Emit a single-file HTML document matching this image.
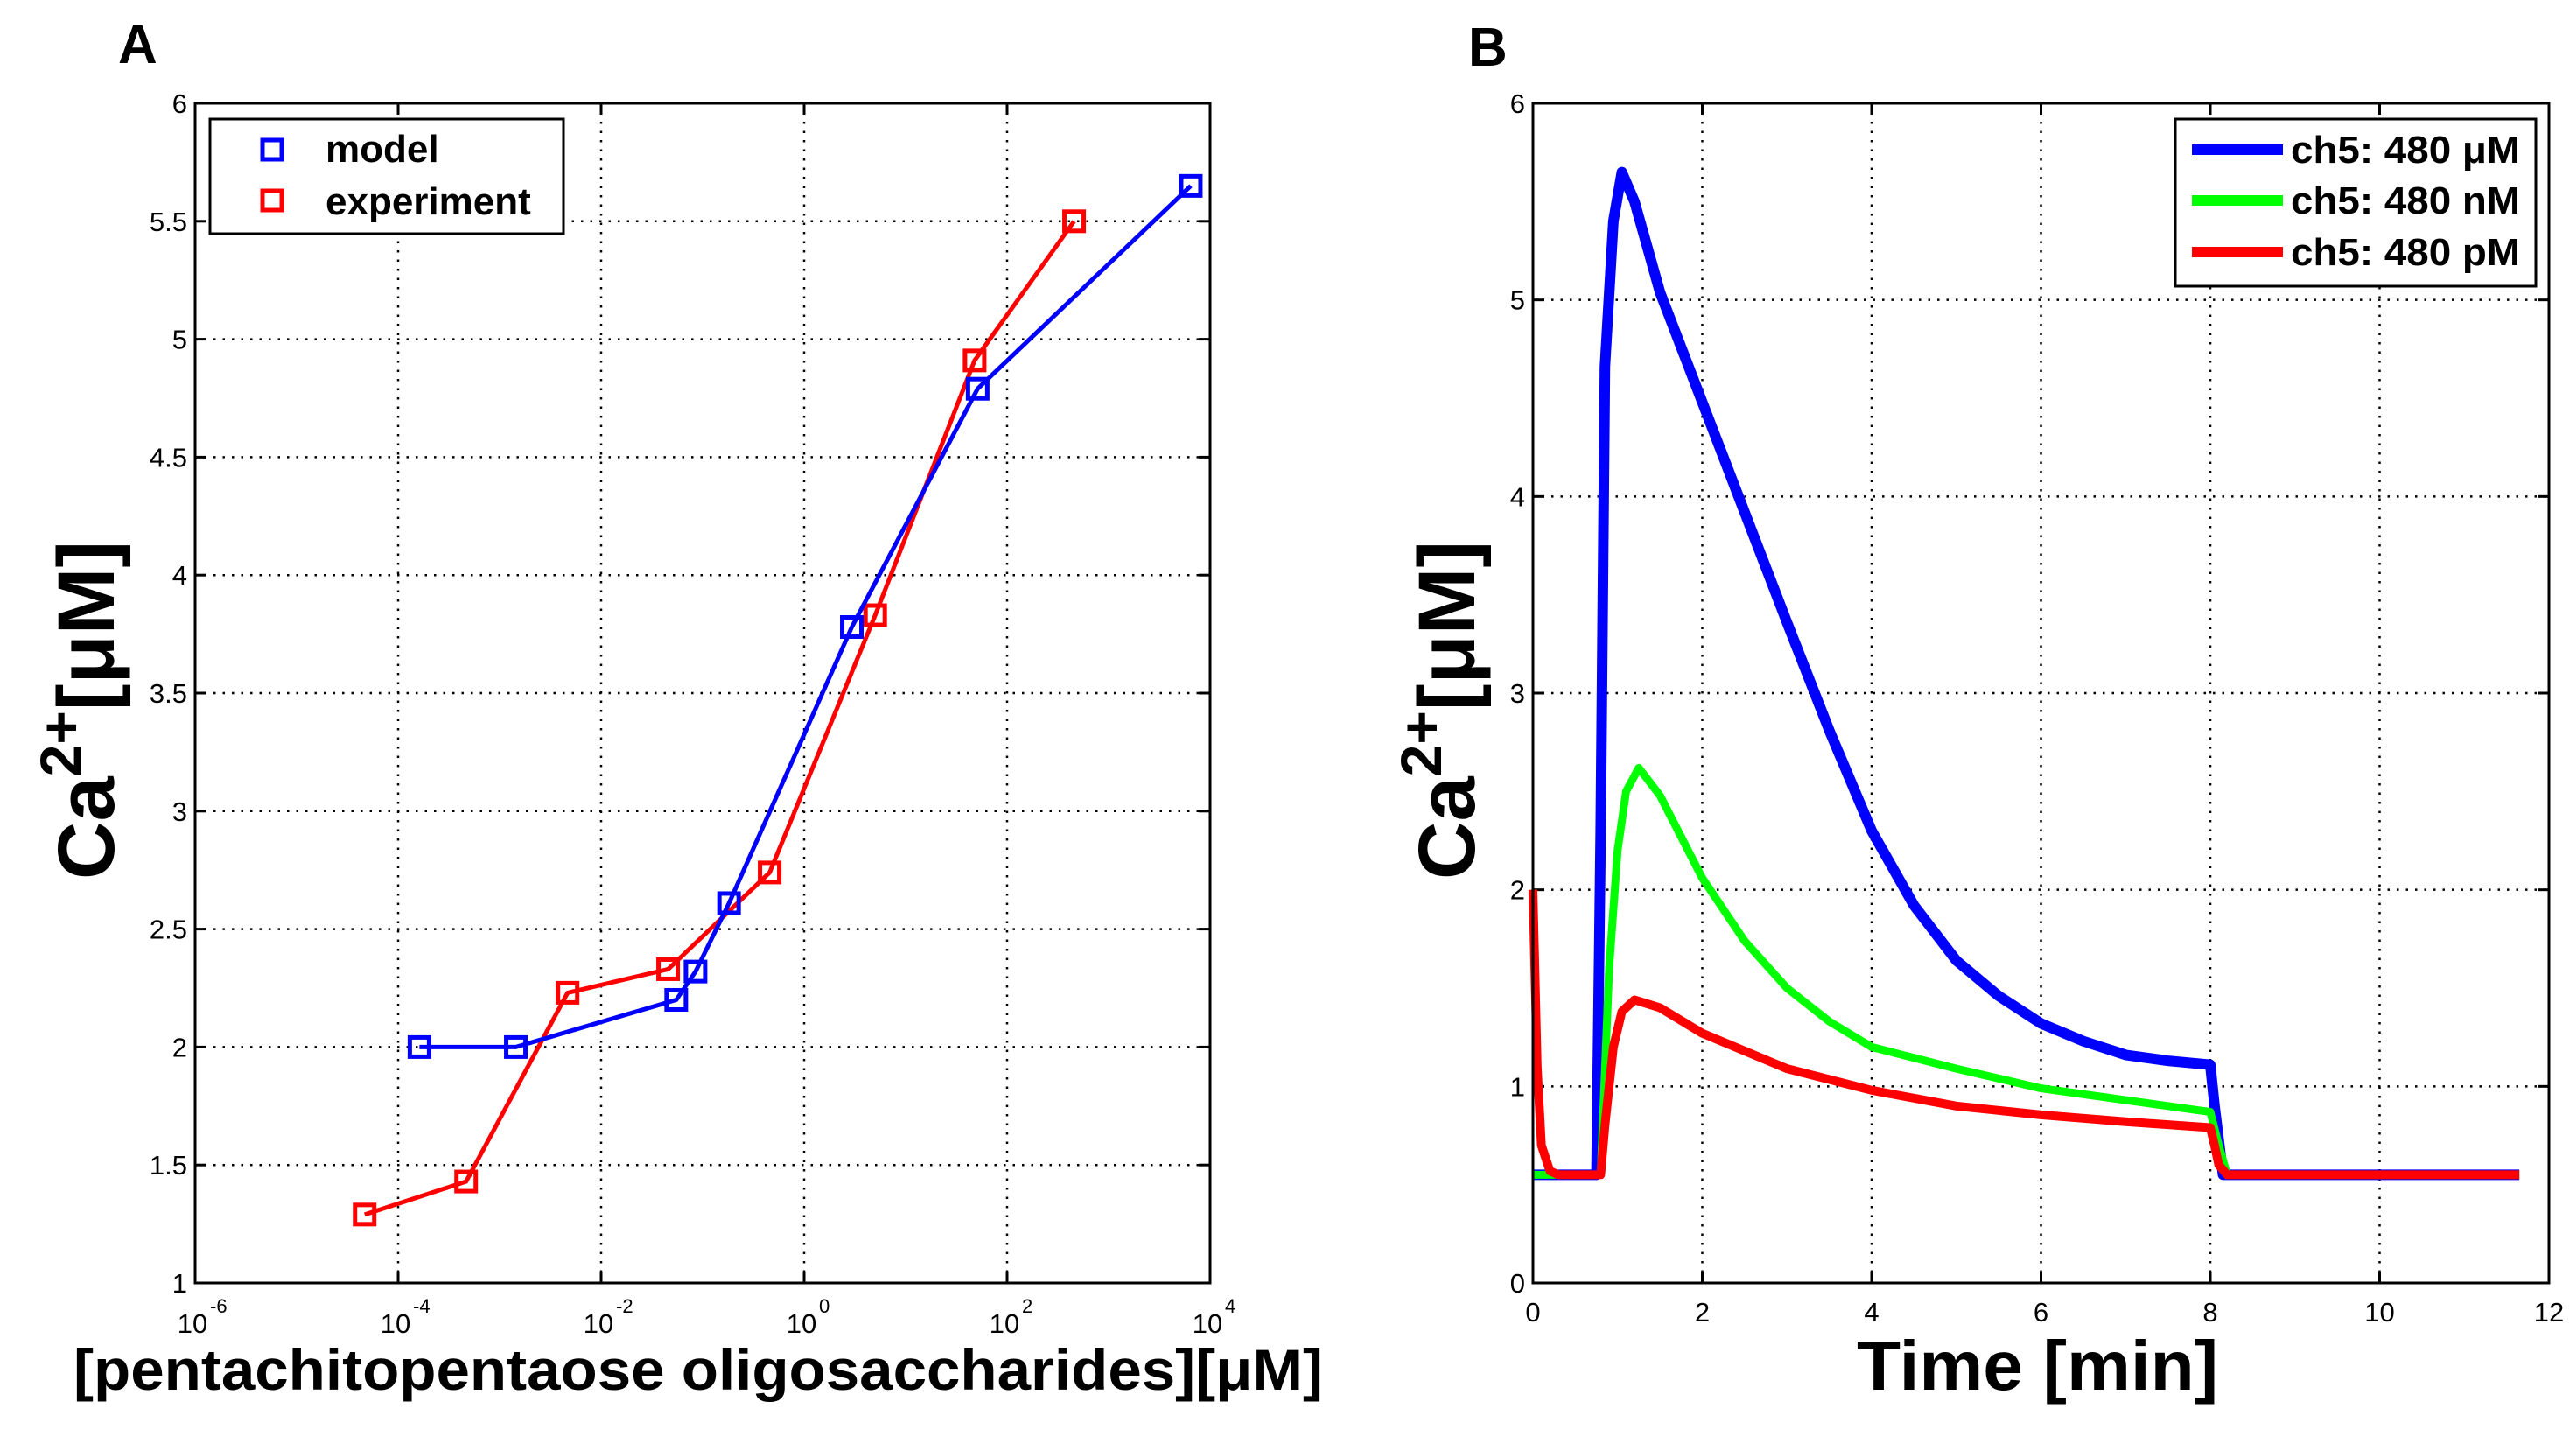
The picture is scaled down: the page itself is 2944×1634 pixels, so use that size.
<!DOCTYPE html>
<html><head><meta charset="utf-8"><style>
html,body{margin:0;padding:0;background:#fff;}
svg{display:block;font-family:"Liberation Sans",sans-serif;}
</style></head><body>
<svg id="fig" width="2944" height="1634" viewBox="0 0 2944 1634">
<rect width="2944" height="1634" fill="#fff"/>
<g id="A"></g>
<g id="B"></g>
</svg>
<script>
// ---- Panel A data (log10 concentration, Ca value) ----
const modelLogX = [-3.79, -2.84, -1.26, -1.07, -0.74, 0.47, 1.71, 3.81];
const modelY    = [2.0, 2.0, 2.2, 2.32, 2.61, 3.78, 4.79, 5.65];
const expLogX   = [-4.33, -3.33, -2.33, -1.34, -0.34, 0.70, 1.68, 2.66];
const expY      = [1.29, 1.43, 2.23, 2.33, 2.74, 3.83, 4.91, 5.50];
const aYTicks   = [1, 1.5, 2, 2.5, 3, 3.5, 4, 4.5, 5, 5.5, 6];
const aXTickExp = [-6, -4, -2, 0, 2, 4];
// ---- Panel B data (time, Ca) ----
const blueT = [0,0.75,0.8,0.85,0.95,1.05,1.2,1.5,2,2.5,3,3.5,4,4.5,5,5.5,6,6.5,7,7.5,8,8.05,8.15,11.65];
const blueY = [0.55,0.55,2.3,4.66,5.4,5.65,5.5,5.04,4.48,3.92,3.36,2.81,2.3,1.92,1.64,1.46,1.32,1.23,1.16,1.13,1.11,0.9,0.55,0.55];
const greenT = [0,0.8,0.9,1.0,1.1,1.25,1.5,2,2.5,3,3.5,4,5,6,7,8,8.1,8.2,11.65];
const greenY = [0.55,0.55,1.6,2.2,2.5,2.62,2.48,2.06,1.74,1.5,1.33,1.2,1.09,0.99,0.93,0.87,0.7,0.55,0.55];
const redT = [0,0.05,0.1,0.2,0.3,0.8,0.85,0.95,1.05,1.2,1.5,2,3,4,5,6,7,8,8.05,8.1,8.2,11.65];
const redY = [2.0,1.1,0.7,0.57,0.55,0.55,0.8,1.2,1.38,1.44,1.4,1.27,1.09,0.98,0.9,0.855,0.82,0.79,0.7,0.6,0.55,0.55];
const bXTicks = [0,2,4,6,8,10,12];
const bYTicks = [0,1,2,3,4,5,6];

const NS="http://www.w3.org/2000/svg";
function mk(parent,tag,attrs,text){const e=document.createElementNS(NS,tag);for(const k in attrs)e.setAttribute(k,attrs[k]);if(text!==undefined)e.textContent=text;parent.appendChild(e);return e;}

const yTop=118,yBot=1466;
const aL=223,aR=1383;
const axA=v=>aL+(v+6)/10*(aR-aL);
const ayA=v=>yBot-(v-1)/5*(yBot-yTop);
const bL=1752,bR=2913;
const axB=v=>bL+v/12*(bR-bL);
const ayB=v=>yBot-v/6*(yBot-yTop);

function frame(g,L,R,xt,xf,yt,yf){
  xt.forEach(v=>{const x=xf(v);
    if(x>L+2&&x<R-2){const gl=mk(g,'line',{x1:x,y1:yTop,x2:x,y2:yBot,stroke:'#000','stroke-width':2.5,'stroke-dasharray':'2.5 8'});
    
    }
    mk(g,'line',{x1:x,y1:yBot,x2:x,y2:yBot-13,stroke:'#000','stroke-width':3});
    mk(g,'line',{x1:x,y1:yTop,x2:x,y2:yTop+13,stroke:'#000','stroke-width':3});});
  yt.forEach(v=>{const y=yf(v);
    if(y>yTop+2&&y<yBot-2){const gl=mk(g,'line',{x1:L,y1:y,x2:R,y2:y,stroke:'#000','stroke-width':2.5,'stroke-dasharray':'2.5 8'});
    
    }
    mk(g,'line',{x1:L,y1:y,x2:L+13,y2:y,stroke:'#000','stroke-width':3});
    mk(g,'line',{x1:R,y1:y,x2:R-13,y2:y,stroke:'#000','stroke-width':3});
    const t=mk(g,'text',{x:L-9,y:y+11,'text-anchor':'end','font-size':31},String(v));
    
    });
}
function box(g,L,R){const r=mk(g,'rect',{x:L,y:yTop,width:R-L,height:yBot-yTop,fill:'none',stroke:'#000','stroke-width':3});
  
  }
function poly(g,xs,ys,xf,yf,col,w){return mk(g,'polyline',{points:xs.map((x,i)=>xf(x)+','+yf(ys[i])).join(' '),fill:'none',stroke:col,'stroke-width':w,'stroke-linejoin':'round'});}

// ---------- Panel A ----------
const A=document.getElementById('A');
frame(A,aL,aR,aXTickExp,axA,aYTicks,ayA);
aXTickExp.forEach(e=>{const x=axA(e);
  const t=mk(A,'text',{x:x-3,y:1523,'text-anchor':'middle','font-size':31},'10');
  
  
  mk(A,'text',{x:x+17,y:1500,'font-size':22},String(e));});
function series(g,xs,ys,col,name){
  const p=poly(g,xs,ys,axA,ayA,col,5);
  
  
  xs.forEach((x,i)=>{const m=mk(g,'rect',{x:axA(x)-11,y:ayA(ys[i])-11,width:22,height:22,fill:'none',stroke:col,'stroke-width':5});
    
    });
}
series(A,expLogX,expY,'#ff0000','experiment');
series(A,modelLogX,modelY,'#0000ff','model');
box(A,aL,aR);
const lgA=mk(A,'g',{});


mk(lgA,'rect',{x:240,y:136,width:404,height:131,fill:'#fff',stroke:'#000','stroke-width':3});
mk(lgA,'rect',{x:300,y:160,width:22,height:22,fill:'none',stroke:'#0000ff','stroke-width':5});
mk(lgA,'rect',{x:300,y:218,width:22,height:22,fill:'none',stroke:'#ff0000','stroke-width':5});
const la1=mk(lgA,'text',{x:372,y:185,'font-size':44,'font-weight':'bold'},'model');


const la2=mk(lgA,'text',{x:372,y:245,'font-size':44,'font-weight':'bold'},'experiment');


const xtA=mk(A,'text',{x:84,y:1588,'font-size':66,'font-weight':'bold',textLength:1428,lengthAdjust:'spacingAndGlyphs'},'[pentachitopentaose oligosaccharides][μM]');


const ytA=mk(A,'text',{transform:'translate(130,1005) rotate(-90)','font-size':92,'font-weight':'bold'});


ytA.innerHTML='Ca<tspan dy="-38" font-size="66">2+</tspan><tspan dy="38">[μM]</tspan>';
const pa=mk(A,'text',{x:135,y:72,'font-size':62,'font-weight':'bold'},'A');



// ---------- Panel B ----------
const B=document.getElementById('B');
frame(B,bL,bR,bXTicks,axB,bYTicks,ayB);
bXTicks.forEach(v=>{const t=mk(B,'text',{x:axB(v),y:1510,'text-anchor':'middle','font-size':31},String(v));
  
  });
const sb=poly(B,blueT,blueY,axB,ayB,'#0000ff',12);


const sg=poly(B,greenT,greenY,axB,ayB,'#00ff00',9);


const sr=poly(B,redT,redY,axB,ayB,'#ff0000',10);


box(B,bL,bR);
const lgB=mk(B,'g',{});


mk(lgB,'rect',{x:2486,y:136,width:412,height:191,fill:'#fff',stroke:'#000','stroke-width':3});
[['#0000ff','ch5: 480 μM',171],['#00ff00','ch5: 480 nM',229],['#ff0000','ch5: 480 pM',288]].forEach(d=>{
  mk(lgB,'line',{x1:2505,y1:d[2],x2:2609,y2:d[2],stroke:d[0],'stroke-width':12});
  const t=mk(lgB,'text',{x:2618,y:d[2]+15,'font-size':44,'font-weight':'bold',textLength:262,lengthAdjust:'spacingAndGlyphs'},d[1]);
  
  });
const xtB=mk(B,'text',{x:2122,y:1588,'font-size':80,'font-weight':'bold',textLength:413,lengthAdjust:'spacingAndGlyphs'},'Time [min]');


const ytB=mk(B,'text',{transform:'translate(1685,1005) rotate(-90)','font-size':92,'font-weight':'bold'});


ytB.innerHTML='Ca<tspan dy="-38" font-size="66">2+</tspan><tspan dy="38">[μM]</tspan>';
const pb=mk(B,'text',{x:1678,y:75,'font-size':62,'font-weight':'bold'},'B');


</script>
</body></html>
